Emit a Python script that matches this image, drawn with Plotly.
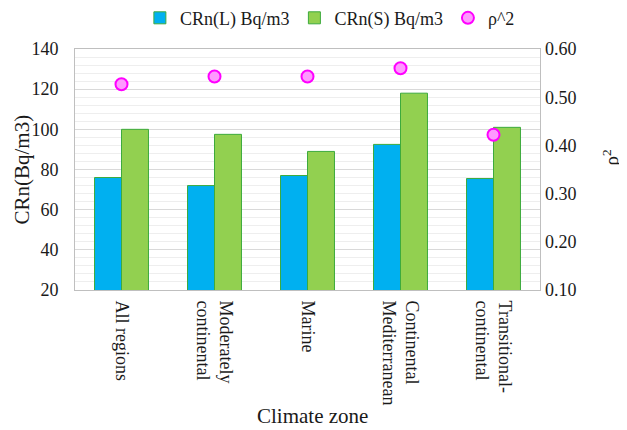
import plotly.graph_objects as go

categories = ["All regions", "Moderately<br>continental", "Marine", "Continental<br>Mediterranean", "Transitional-<br>continental"]
crn_l = [76, 72, 77, 92.5, 75.5]
crn_s = [100, 97.5, 89, 118, 101]
rho2 = [0.527, 0.543, 0.543, 0.560, 0.422]

FONT = "Liberation Serif"
EDGE = "#3DAA3D"
TXT = "#1A1A1A"

fig = go.Figure()
fig.add_trace(go.Bar(x=categories, y=crn_l, name="CRn(L) Bq/m3",
                     marker=dict(color="#00B0F0", line=dict(color=EDGE, width=1))))
fig.add_trace(go.Bar(x=categories, y=crn_s, name="CRn(S) Bq/m3",
                     marker=dict(color="#92D050", line=dict(color=EDGE, width=1))))
fig.add_trace(go.Scatter(x=categories, y=rho2, name="ρ^2", mode="markers", yaxis="y2",
                         marker=dict(symbol="circle", size=12, color="#FF99FF",
                                     line=dict(color="#FF00FF", width=2))))

fig.update_layout(
    width=619, height=422,
    margin=dict(l=67, r=87, t=41, b=140, autoexpand=False),
    paper_bgcolor="white", plot_bgcolor="white",
    font=dict(family=FONT, size=18, color=TXT),
    barmode="group", bargap=0.42, bargroupgap=0,
    showlegend=True,
    legend=dict(orientation="h", x=0.52, xanchor="center", xref="container",
                y=0.976, yanchor="middle", yref="container",
                font=dict(family=FONT, size=18, color=TXT), traceorder="normal",
                itemwidth=30, tracegroupgap=0),
    xaxis=dict(tickangle=90, showline=True, linecolor="#BFBFBF", mirror=True, automargin=False,
               ticks="", ticklabelstandoff=6, tickfont=dict(family=FONT, size=18, color=TXT)),
    yaxis=dict(range=[20, 140], dtick=20, tick0=20, showline=True, linecolor="#BFBFBF",
               mirror=True, gridcolor="#D9D9D9", ticks="", zeroline=False, automargin=False,
               ticklabelstandoff=12, tickfont=dict(family=FONT, size=18, color=TXT),
               minor=dict(dtick=4, tick0=20, showgrid=True, gridcolor="#EEEEEE")),
    yaxis2=dict(range=[0.10, 0.60], dtick=0.1, tick0=0.1, tickformat=".2f", overlaying="y",
                side="right", showgrid=False, zeroline=False, ticks="", automargin=False,
                ticklabelstandoff=4, tickfont=dict(family=FONT, size=18, color=TXT)),
    annotations=[
        dict(text="CRn(Bq/m3)", xref="paper", yref="paper", x=0, y=0.5, xshift=-54,
             xanchor="center", yanchor="middle", textangle=-90, showarrow=False,
             font=dict(family=FONT, size=21, color=TXT)),
        dict(text="ρ<sup>2</sup>", xref="paper", yref="paper", x=1, y=0.5, xshift=70, yshift=12,
             xanchor="center", yanchor="middle", textangle=-90, showarrow=False,
             font=dict(family=FONT, size=19, color=TXT)),
        dict(text="Climate zone", xref="paper", yref="paper", x=0.5, y=0, xshift=5, yshift=-126,
             xanchor="center", yanchor="middle", showarrow=False,
             font=dict(family=FONT, size=21, color=TXT)),
    ],
)

fig.write_html("out.html")
